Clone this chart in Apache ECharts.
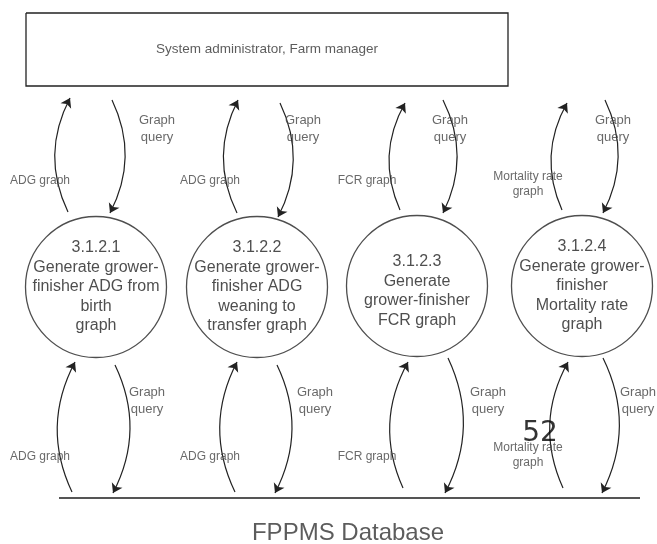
<!DOCTYPE html>
<html>
<head>
<meta charset="utf-8">
<script src="https://cdn.jsdelivr.net/npm/echarts@6/dist/echarts.min.js"></script>
<style>
  html, body { margin: 0; padding: 0; background: #fff; }
  #main { width: 657px; height: 544px; }
</style>
</head>
<body>
<div id="main"></div>
<script>
// processes (bubbles) of the data flow diagram
var processIds = ['3.1.2.1', '3.1.2.2', '3.1.2.3', '3.1.2.4'];
var processNames = [
  'Generate grower-\nfinisher ADG from\nbirth\ngraph',
  'Generate grower-\nfinisher ADG\nweaning to\ntransfer graph',
  'Generate\ngrower-finisher\nFCR graph',
  'Generate grower-\nfinisher\nMortality rate\ngraph'
];
var processX = [96, 257, 417, 582];
var processY = [287, 287, 286, 286];

// data flows
var outFlows = ['ADG graph', 'ADG graph', 'FCR graph', 'Mortality rate\ngraph'];
var inFlow = 'Graph\nquery';

// terminator + data store
var userName = 'System administrator, Farm manager';
var storeName = 'FPPMS Database';
var pageNo = '52';

// arrow ends [x1, y1, x2, y2]
var upperUp = [[68, 212, 70, 98], [237, 213, 238, 100], [400, 210, 405, 103], [562, 210, 567, 103]];
var upperDown = [[112, 100, 110, 213], [280, 103, 278, 217], [443, 100, 443, 213], [605, 100, 603, 213]];
var lowerUp = [[72, 492, 75, 362], [235, 492, 237, 362], [403, 488, 408, 362], [563, 488, 568, 362]];
var lowerDown = [[115, 365, 113, 493], [277, 365, 275, 493], [448, 358, 445, 493], [603, 358, 602, 493]];

// label anchors
var outLabelX = [40, 210, 367, 528];
var upQueryX = [157, 303, 450, 613];
var lowQueryX = [147, 315, 488, 638];

var chart = echarts.init(document.getElementById('main'));
var FONT = '"Liberation Sans", Arial, sans-serif';

var arrows = [];
[upperUp, upperDown, lowerUp, lowerDown].forEach(function (set) {
  set.forEach(function (a) {
    arrows.push({ coords: [[a[0], a[1]], [a[2], a[3]]] });
  });
});

var texts = [];
for (var i = 0; i < 4; i++) {
  texts.push({ value: [outLabelX[i], i == 3 ? 184 : 181], name: outFlows[i], label: { fontSize: 12, lineHeight: 15 } });
  texts.push({ value: [outLabelX[i], i == 3 ? 455 : 457], name: outFlows[i], label: { fontSize: 12, lineHeight: 15 } });
  texts.push({ value: [upQueryX[i], 129], name: inFlow });
  texts.push({ value: [lowQueryX[i], 401], name: inFlow });
}
texts.push({ value: [267, 49], name: userName, label: { fontSize: 13.5, color: '#333' } });
texts.push({ value: [348, 533], name: storeName, label: { fontSize: 24, color: '#333' } });
texts.push({ value: [540, 434], name: pageNo, label: { fontSize: 28, color: '#000', fontFamily: '"DejaVu Sans", sans-serif' } });

var bubbles = processIds.map(function (id, i) {
  var d = { value: [processX[i], processY[i]], name: id + '\n' + processNames[i] };
  if (i == 2) d.label = { offset: [0, 5] };
  return d;
});

var option = {
  animation: false,
  backgroundColor: '#fff',
  grid: { left: 0, right: 0, top: 0, bottom: 0 },
  xAxis: { type: 'value', min: 0, max: 657, show: false },
  yAxis: { type: 'value', min: 0, max: 544, inverse: true, show: false },
  series: [
    {
      // terminator box
      type: 'lines',
      coordinateSystem: 'cartesian2d',
      polyline: true,
      silent: true,
      lineStyle: { color: '#222', width: 1.3, opacity: 1 },
      data: [{ coords: [[26, 13], [508, 13], [508, 86], [26, 86], [26, 13]] }]
    },
    {
      // data store line
      type: 'lines',
      coordinateSystem: 'cartesian2d',
      polyline: true,
      silent: true,
      lineStyle: { color: '#555', width: 2, opacity: 1 },
      data: [{ coords: [[59, 498], [640, 498]] }]
    },
    {
      type: 'lines',
      coordinateSystem: 'cartesian2d',
      silent: true,
      symbol: ['none', 'arrow'],
      symbolSize: 9,
      lineStyle: { color: '#222', width: 1.2, opacity: 1, curveness: 0.25 },
      data: arrows
    },
    {
      type: 'scatter',
      silent: true,
      symbol: 'circle',
      symbolSize: 141,
      itemStyle: { color: 'rgba(255,255,255,0)', borderColor: '#222', borderWidth: 1.3 },
      label: {
        show: true,
        position: 'inside',
        formatter: '{b}',
        fontFamily: FONT,
        fontSize: 16,
        lineHeight: 19.5,
        color: '#222'
      },
      data: bubbles
    },
    {
      type: 'scatter',
      silent: true,
      symbolSize: 1,
      itemStyle: { color: 'rgba(0,0,0,0)' },
      label: {
        show: true,
        position: 'inside',
        formatter: '{b}',
        fontFamily: FONT,
        fontSize: 13,
        lineHeight: 17,
        color: '#444'
      },
      data: texts
    }
  ]
};

chart.setOption(option);
</script>
</body>
</html>
